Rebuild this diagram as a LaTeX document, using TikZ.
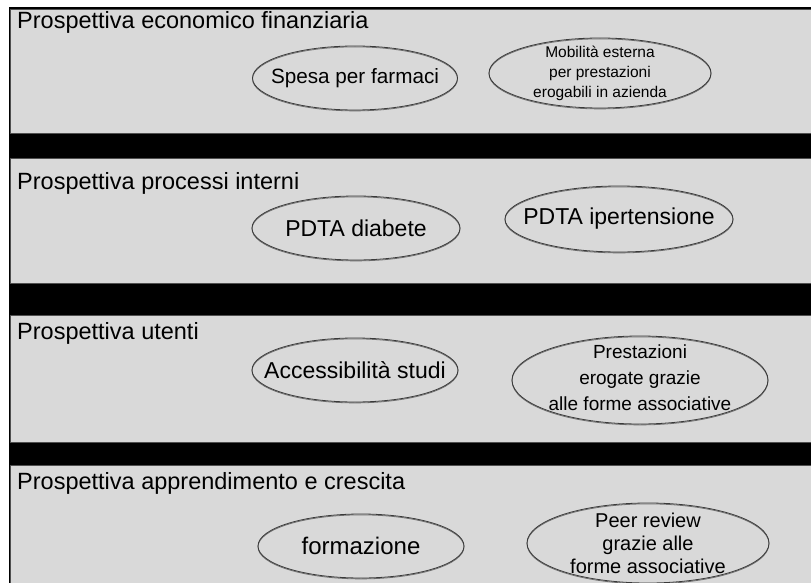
\documentclass[tikz,border=0pt]{standalone}
\usepackage{fontspec}
\setmainfont{Liberation Sans}
\usetikzlibrary{shapes.geometric}
\definecolor{bandgray}{HTML}{D9D9D9}
\definecolor{edgegray}{HTML}{505050}
\definecolor{ringgray}{HTML}{3A3A3A}
\definecolor{shadegray}{HTML}{707070}
\tikzset{
  band/.style={fill=bandgray, draw=edgegray, line width=0.8pt},
  title/.style={anchor=base west, inner sep=0pt, font=\fontsize{23.5}{28}\selectfont},
  ring/.style={ellipse, draw=ringgray, line width=0.8pt, inner sep=0pt,
    preaction={draw=shadegray, line width=0.8pt, transform canvas={yshift=-0.9pt}}},
  ringtext/.style={align=center, inner sep=0pt, text=black}
}
\begin{document}
\begin{tikzpicture}[x=1pt,y=-1pt]
\useasboundingbox (0,0) rectangle (811,583);
\clip (0,0) rectangle (811,583);
% black backdrop that shows between the bands
\fill[black] (9,7) rectangle (830,600);
% the four perspective bands
\draw[band] (10,9)   rectangle (830,133);
\draw[band] (10,158) rectangle (830,283);
\draw[band] (10,315) rectangle (830,442);
\draw[band] (10,465) rectangle (830,600);

% band titles
\node[title] (t1) at (17,29)  {Prospettiva economico finanziaria};
\node[title] (t2) at (17,189) {Prospettiva processi interni};
\node[title] (t3) at (17,339) {Prospettiva utenti};
\node[title] (t4) at (17,489) {Prospettiva apprendimento e crescita};

% economic-financial
\node[ring, minimum width=205pt, minimum height=64pt] (spesa) at (355,78) {};
\node[ringtext, font=\fontsize{20.7}{24}\selectfont] (spesa-t) at (spesa) {Spesa per farmaci};
\node[ring, minimum width=222pt, minimum height=70pt] (mob) at (600,73) {};
\node[ringtext, font=\fontsize{15.5}{20}\selectfont] (mob-t) at (mob) {Mobilità esterna\\per prestazioni\\erogabili in azienda};

% internal processes
\node[ring, minimum width=208pt, minimum height=64pt] (diab) at (356,228) {};
\node[ringtext, font=\fontsize{23}{28}\selectfont] (diab-t) at (diab) {PDTA diabete};
\node[ring, minimum width=228pt, minimum height=66pt] (iper) at (619,219) {};
\node[ringtext, font=\fontsize{23}{28}\selectfont] (iper-t) at (iper) {PDTA ipertensione};

% users
\node[ring, minimum width=206pt, minimum height=64pt] (acc) at (355,370) {};
\node[ringtext, font=\fontsize{23}{28}\selectfont] (acc-t) at (acc) {Accessibilità studi};
\node[ring, minimum width=256pt, minimum height=88pt] (prest) at (640,380) {};
\node[ringtext, font=\fontsize{19}{26}\selectfont] (prest-t) at (640,378) {Prestazioni\\erogate grazie\\alle forme associative};

% learning and growth
\node[ring, minimum width=206pt, minimum height=64pt] (form) at (361,546) {};
\node[ringtext, font=\fontsize{24}{28}\selectfont] (form-t) at (form) {formazione};
\node[ring, minimum width=242pt, minimum height=80pt] (peer) at (648,543) {};
\node[ringtext, font=\fontsize{20}{23}\selectfont] (peer-t) at (648,543) {Peer review\\grazie alle\\forme associative};
\end{tikzpicture}
\end{document}
